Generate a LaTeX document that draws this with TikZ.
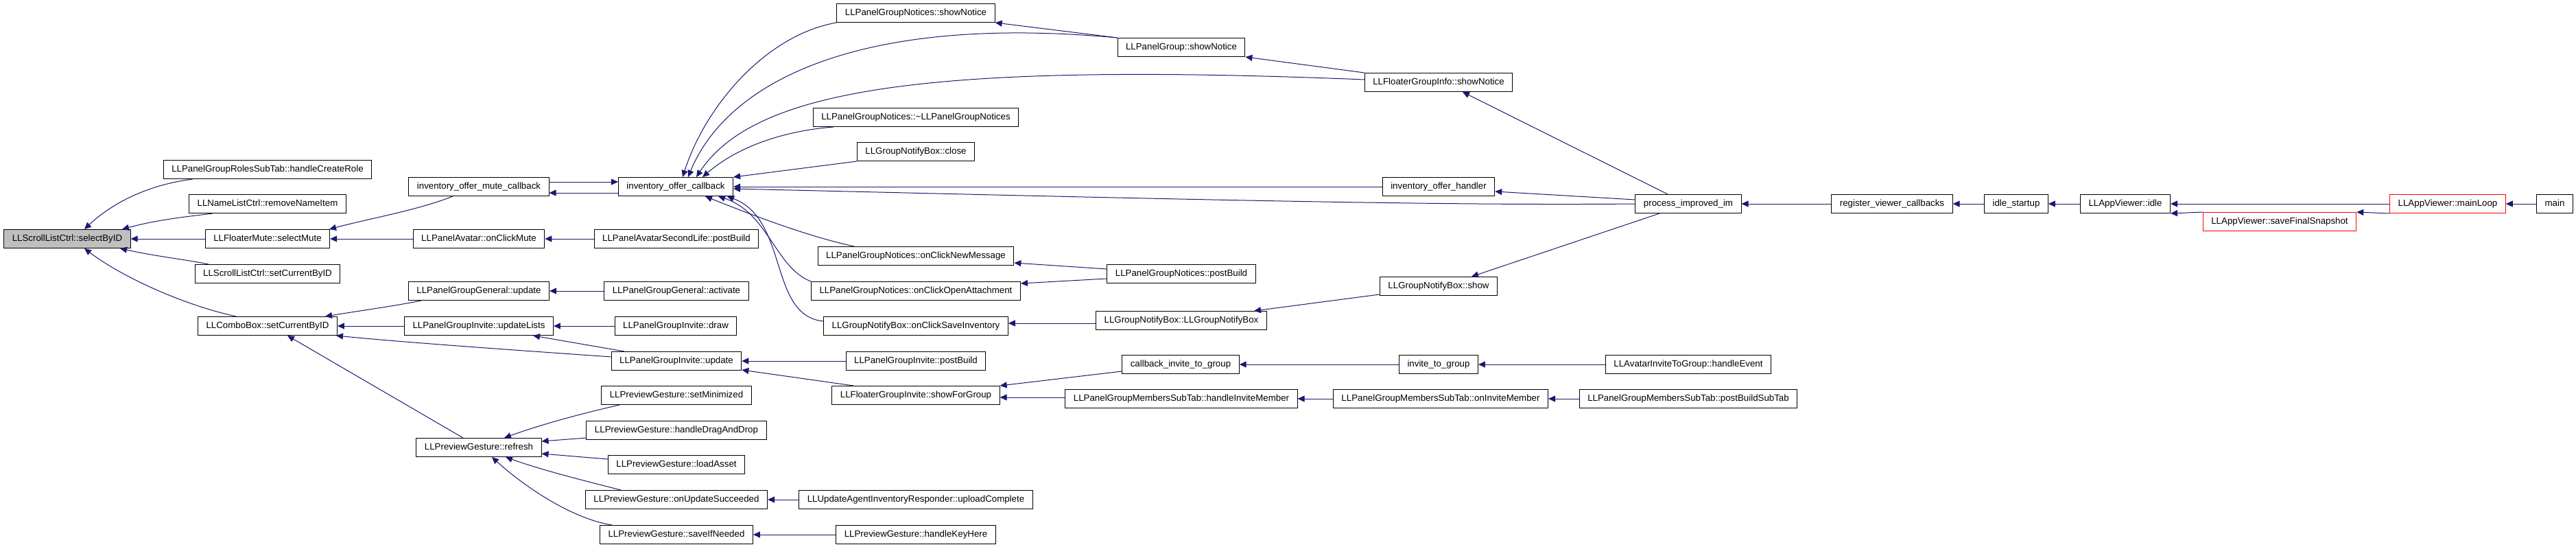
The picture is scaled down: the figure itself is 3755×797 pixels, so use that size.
\documentclass[tikz,border=0pt]{standalone}
\usepackage{fontspec}
\setmainfont{Liberation Sans}
\usetikzlibrary{arrows.meta}
\definecolor{edgeblue}{RGB}{25,25,112}

\begin{document}
\begin{tikzpicture}[
  x=0.5pt, y=-0.5pt,
  fn/.style={draw, line width=0.5pt, minimum height=13.5pt, inner xsep=6pt, inner ysep=0pt,
    font=\fontsize{6.65}{7}\selectfont, text height=4.9pt, text depth=1.4pt},
  every node/.style={fn},
  root_fn/.style={fill=black!25},
  cut_fn/.style={draw=red},
  call/.style={draw=edgeblue, line width=0.5pt},
  >={Triangle[length=5pt,width=4.5pt]}
  ]
	\useasboundingbox (0,0) rectangle (3755,797);

	\node[root_fn] (selectByID) at (98,348) {LLScrollListCtrl::selectByID};

	\node (handleCreateRole) at (390,247) {LLPanelGroupRolesSubTab::handleCreateRole};
	\node (removeNameItem) at (390,297) {LLNameListCtrl::removeNameItem};
	\node (selectMute) at (390,348) {LLFloaterMute::selectMute};
	\node (scrollSetCurrent) at (390,399) {LLScrollListCtrl::setCurrentByID};
	\node (comboSetCurrent) at (390,475) {LLComboBox::setCurrentByID};

	\node (muteCallback) at (698,272) {inventory\_offer\_mute\_callback};
	\node (onClickMute) at (698,348) {LLPanelAvatar::onClickMute};
	\node (generalUpdate) at (698,424) {LLPanelGroupGeneral::update};
	\node (updateLists) at (698,475) {LLPanelGroupInvite::updateLists};
	\node (refresh) at (698,652) {LLPreviewGesture::refresh};

	\node (offerCallback) at (985,272) {inventory\_offer\_callback};
	\node (avatarPostBuild) at (986,348) {LLPanelAvatarSecondLife::postBuild};
	\node (generalActivate) at (986,424) {LLPanelGroupGeneral::activate};
	\node (inviteDraw) at (985,475) {LLPanelGroupInvite::draw};
	\node (inviteUpdate) at (986,526) {LLPanelGroupInvite::update};
	\node (setMinimized) at (986,576) {LLPreviewGesture::setMinimized};
	\node (dragAndDrop) at (986,627) {LLPreviewGesture::handleDragAndDrop};
	\node (loadAsset) at (986,677) {LLPreviewGesture::loadAsset};
	\node (updateSucceeded) at (986,728) {LLPreviewGesture::onUpdateSucceeded};
	\node (saveIfNeeded) at (986,779) {LLPreviewGesture::saveIfNeeded};

	\node (noticesShow) at (1335,19) {LLPanelGroupNotices::showNotice};
	\node (noticesDtor) at (1335,171) {LLPanelGroupNotices::\textasciitilde LLPanelGroupNotices};
	\node (notifyClose) at (1335,221) {LLGroupNotifyBox::close};
	\node (newMessage) at (1335,373) {LLPanelGroupNotices::onClickNewMessage};
	\node (openAttachment) at (1335,424) {LLPanelGroupNotices::onClickOpenAttachment};
	\node (saveInventory) at (1335,475) {LLGroupNotifyBox::onClickSaveInventory};
	\node (invitePostBuild) at (1335,526) {LLPanelGroupInvite::postBuild};
	\node (showForGroup) at (1335,576) {LLFloaterGroupInvite::showForGroup};
	\node (uploadComplete) at (1335,728) {LLUpdateAgentInventoryResponder::uploadComplete};
	\node (handleKeyHere) at (1335,779) {LLPreviewGesture::handleKeyHere};

	\node (groupShow) at (1722,69) {LLPanelGroup::showNotice};
	\node (noticesPostBuild) at (1722,399) {LLPanelGroupNotices::postBuild};
	\node (notifyBoxCtor) at (1722,467) {LLGroupNotifyBox::LLGroupNotifyBox};
	\node (callbackInvite) at (1721,531) {callback\_invite\_to\_group};
	\node (handleInvite) at (1722,581) {LLPanelGroupMembersSubTab::handleInviteMember};

	\node (floaterShow) at (2097,120) {LLFloaterGroupInfo::showNotice};
	\node (offerHandler) at (2097,272) {inventory\_offer\_handler};
	\node (notifyShow) at (2097,417) {LLGroupNotifyBox::show};
	\node (inviteToGroup) at (2097,531) {invite\_to\_group};
	\node (onInvite) at (2100,581) {LLPanelGroupMembersSubTab::onInviteMember};

	\node (processIM) at (2461,297) {process\_improved\_im};
	\node (handleEvent) at (2461,531) {LLAvatarInviteToGroup::handleEvent};
	\node (postBuildSubTab) at (2461,581) {LLPanelGroupMembersSubTab::postBuildSubTab};

	\node (registerCallbacks) at (2758,297) {register\_viewer\_callbacks};
	\node (idleStartup) at (2939,297) {idle\_startup};
	\node (appIdle) at (3098,297) {LLAppViewer::idle};
	\node[cut_fn] (saveSnapshot) at (3323,323) {LLAppViewer::saveFinalSnapshot};
	\node[cut_fn] (mainLoop) at (3568,297) {LLAppViewer::mainLoop};
	\node (main) at (3724,297) {main};

	\draw[call,<-] (selectByID.north -| 123,0) .. controls (170,290) and (225,268) .. (handleCreateRole.south -| 281,0);
	\draw[call,<-] (selectByID.north -| 178,0) .. controls (230,320) and (270,316) .. (removeNameItem.south -| 310,0);
	\draw[call,<-] (selectByID) -- (selectMute);
	\draw[call,<-] (selectByID.south -| 175,0) .. controls (230,374) and (270,378) .. (scrollSetCurrent.north -| 304,0);
	\draw[call,<-] (selectByID.south -| 123,0) .. controls (180,405) and (270,445) .. (comboSetCurrent.north -| 344,0);

	\draw[call,<-] (selectMute.north -| 480,0) .. controls (540,318) and (610,306) .. (muteCallback.south -| 660,0);
	\draw[call,<-] (selectMute) -- (onClickMute);
	\draw[call,<-] (onClickMute) -- (avatarPostBuild);
	\draw[call,<-] (offerCallback.west |- 0,265) -- (muteCallback.east |- 0,265);
	\draw[call,<-] (muteCallback.east |- 0,281) -- (offerCallback.west |- 0,281);

	\draw[call,<-] (comboSetCurrent.north -| 474,0) .. controls (530,452) and (580,445) .. (generalUpdate.south -| 614,0);
	\draw[call,<-] (comboSetCurrent) -- (updateLists);
	\draw[call,<-] (comboSetCurrent.south -| 490,0) .. controls (580,498) and (720,508) .. (inviteUpdate.west |- 0,520);
	\draw[call,<-] (comboSetCurrent.south -| 419,0) -- (refresh.north -| 675,0);
	\draw[call,<-] (generalUpdate) -- (generalActivate);
	\draw[call,<-] (updateLists) -- (inviteDraw);
	\draw[call,<-] (updateLists.south -| 777,0) -- (inviteUpdate.north -| 910,0);

	\draw[call,<-] (refresh.north -| 735,0) .. controls (790,618) and (850,602) .. (setMinimized.south -| 903,0);
	\draw[call,<-] (refresh.east |- 0,643) -- (dragAndDrop.west |- 0,638);
	\draw[call,<-] (refresh.east |- 0,661) -- (loadAsset.west |- 0,669);
	\draw[call,<-] (refresh.south -| 737,0) .. controls (790,685) and (850,700) .. (updateSucceeded.north -| 905,0);
	\draw[call,<-] (refresh.south -| 717,0) .. controls (760,705) and (830,755) .. (saveIfNeeded.north -| 892,0);
	\draw[call,<-] (updateSucceeded) -- (uploadComplete);
	\draw[call,<-] (saveIfNeeded) -- (handleKeyHere);

	\draw[call,<-] (inviteUpdate) -- (invitePostBuild);
	\draw[call,<-] (inviteUpdate.east |- 0,539) -- (showForGroup.north -| 1244,0);
	\draw[call,<-] (showForGroup.north east) -- (callbackInvite.west |- 0,541);
	\draw[call,<-] (showForGroup.east |- 0,579) -- (handleInvite.west |- 0,579);
	\draw[call,<-] (callbackInvite) -- (inviteToGroup);
	\draw[call,<-] (inviteToGroup) -- (handleEvent);
	\draw[call,<-] (handleInvite) -- (onInvite);
	\draw[call,<-] (onInvite) -- (postBuildSubTab);

	\draw[call,<-] (offerCallback.north -| 995,0) .. controls (1030,150) and (1120,50) .. (noticesShow.south west);
	\draw[call,<-] (offerCallback.north -| 1003,0) .. controls (1060,120) and (1250,20) .. (groupShow.north west);
	\draw[call,<-] (offerCallback.north -| 1015,0) .. controls (1100,130) and (1350,90) .. (floaterShow.west |- 0,116);
	\draw[call,<-] (offerCallback.north -| 1024,0) .. controls (1080,210) and (1150,190) .. (noticesDtor.south -| 1215,0);
	\draw[call,<-] (offerCallback.north east) -- (notifyClose.south west);
	\draw[call,<-] (offerCallback) -- (offerHandler);
	\draw[call,<-] (offerCallback.east |- 0,275) .. controls (1700,290) and (2100,300) .. (processIM.west |- 0,297);
	\draw[call,<-] (offerCallback.south -| 1028,0) .. controls (1100,315) and (1180,345) .. (newMessage.north -| 1245,0);
	\draw[call,<-] (offerCallback.south -| 1047,0) .. controls (1120,310) and (1130,390) .. (openAttachment.north west);
	\draw[call,<-] (offerCallback.south -| 1060,0) .. controls (1150,320) and (1120,460) .. (saveInventory.west |- 0,468);

	\draw[call,<-] (noticesShow.south east) -- (groupShow.north west);
	\draw[call,<-] (groupShow.south east) -- (floaterShow.north west);
	\draw[call,<-] (floaterShow.south -| 2132,0) -- (processIM.north -| 2431,0);
	\draw[call,<-] (offerHandler.east |- 0,279) -- (processIM.west |- 0,291);
	\draw[call,<-] (notifyShow.north -| 2145,0) -- (processIM.south -| 2419,0);
	\draw[call,<-] (notifyBoxCtor.north -| 1828,0) -- (notifyShow.west |- 0,429);
	\draw[call,<-] (saveInventory.east |- 0,471) -- (notifyBoxCtor.west |- 0,471);
	\draw[call,<-] (newMessage.east |- 0,383) -- (noticesPostBuild.west |- 0,392);
	\draw[call,<-] (openAttachment.east |- 0,413) -- (noticesPostBuild.west |- 0,406);

	\draw[call,<-] (processIM) -- (registerCallbacks);
	\draw[call,<-] (registerCallbacks) -- (idleStartup);
	\draw[call,<-] (idleStartup) -- (appIdle);
	\draw[call,<-] (appIdle) -- (mainLoop);
	\draw[call,<-] (appIdle.south east) -- (saveSnapshot.north west);
	\draw[call,<-] (saveSnapshot.north east) -- (mainLoop.south west);
	\draw[call,<-] (mainLoop) -- (main);
\end{tikzpicture}
\end{document}
